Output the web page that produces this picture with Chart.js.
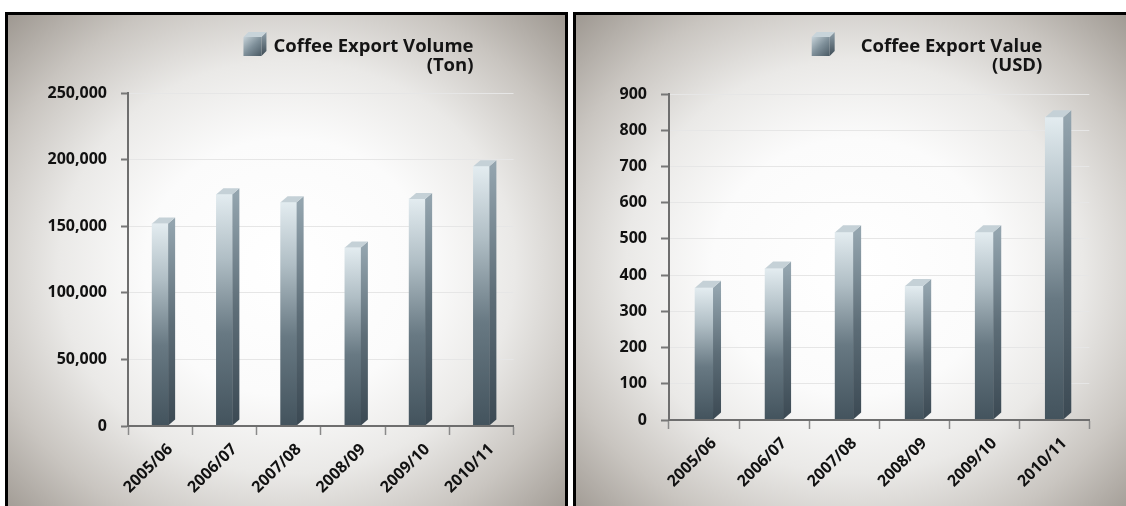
<!DOCTYPE html>
<html>
<head>
<meta charset="utf-8">
<title>Coffee Export</title>
<script src="https://cdn.jsdelivr.net/npm/chart.js@4.4.1/dist/chart.umd.min.js"></script>
<style>
  html, body { margin: 0; padding: 0; background: #fff; width: 1126px; height: 506px; overflow: hidden; }
  .panel {
    position: absolute; top: 12px; width: 563px; height: 510px;
    box-sizing: border-box; border: 3px solid #000;
    background: radial-gradient(ellipse farthest-corner at 50% 50%, #ffffff 0%, #fbfbfb 36%, #eae9e7 58%, #c9c5c0 79%, #9e9891 100%);
  }
  #left { left: 5px; }
  #right { left: 573px; }
  .panel canvas { position: absolute; left: 0; top: 0; }
</style>
</head>
<body>
<div class="panel" id="left"><canvas id="volumeChart" width="557" height="504"></canvas></div>
<div class="panel" id="right"><canvas id="valueChart" width="557" height="504"></canvas></div>

<script>
const seasons = ["2005/06", "2006/07", "2007/08", "2008/09", "2009/10", "2010/11"];
const volumeTons = [152000, 174000, 168000, 134000, 170500, 195000];
const valueUsd = [365, 418, 518, 370, 518, 836];
const volumeAxis = { max: 250000, step: 50000 };
const valueAxis = { max: 900, step: 100 };

const FONT = "'Open Sans', 'DejaVu Sans', sans-serif";

// front face of each bar: light steel at the top, dark slate at the base
function frontFill(context) {
  const chart = context.chart;
  if (!chart.chartArea || context.type !== 'data') return '#7d8e98';
  const y = chart.scales.y.getPixelForValue(context.raw);
  const base = chart.scales.y.getPixelForValue(0);
  const g = chart.ctx.createLinearGradient(0, y, 0, base);
  g.addColorStop(0, '#e3ecf0');
  g.addColorStop(0.28, '#b0bec5');
  g.addColorStop(0.6, '#687983');
  g.addColorStop(1, '#43535d');
  return g;
}

function drawCube(ctx, x, y, w, h, d) {
  // side
  let g = ctx.createLinearGradient(0, y, 0, y + h + d);
  g.addColorStop(0, '#8fa0aa');
  g.addColorStop(1, '#3e4c56');
  ctx.fillStyle = g;
  ctx.beginPath();
  ctx.moveTo(x + w, y + d); ctx.lineTo(x + w + d, y); ctx.lineTo(x + w + d, y + h); ctx.lineTo(x + w, y + h + d);
  ctx.closePath(); ctx.fill();
  // top
  ctx.fillStyle = '#c8d4da';
  ctx.beginPath();
  ctx.moveTo(x, y + d); ctx.lineTo(x + d, y); ctx.lineTo(x + w + d, y); ctx.lineTo(x + w, y + d);
  ctx.closePath(); ctx.fill();
  // front
  g = ctx.createLinearGradient(x, y + d, x + w, y + h + d);
  g.addColorStop(0, '#c7d3d9');
  g.addColorStop(0.5, '#7f909a');
  g.addColorStop(1, '#4a5a64');
  ctx.fillStyle = g;
  ctx.fillRect(x, y + d, w, h);
}

// side and top faces that give the bars their depth
const bar3d = {
  id: 'bar3d',
  afterDatasetsDraw(chart, args, opts) {
    const ctx = chart.ctx;
    const d = opts.depth, up = opts.rise;
    ctx.save();
    chart.getDatasetMeta(0).data.forEach(bar => {
      const { x, y, base, width } = bar.getProps(['x', 'y', 'base', 'width'], true);
      const l = x - width / 2, r = x + width / 2;
      const g = ctx.createLinearGradient(0, y, 0, base);
      g.addColorStop(0, '#93a4ae');
      g.addColorStop(0.5, '#5d6d77');
      g.addColorStop(1, '#3b4953');
      ctx.fillStyle = g;
      ctx.beginPath();
      ctx.moveTo(r, y); ctx.lineTo(r + d, y - up); ctx.lineTo(r + d, base - up); ctx.lineTo(r, base);
      ctx.closePath(); ctx.fill();
      ctx.fillStyle = '#c5d1d7';
      ctx.beginPath();
      ctx.moveTo(l, y); ctx.lineTo(l + d, y - up); ctx.lineTo(r + d, y - up); ctx.lineTo(r, y);
      ctx.closePath(); ctx.fill();
    });
    ctx.restore();
  }
};

// two-line series key with a small cube, right-aligned above the plot
const seriesKey = {
  id: 'seriesKey',
  afterDraw(chart, args, opts) {
    const ctx = chart.ctx;
    const right = chart.chartArea.right - opts.inset;
    ctx.save();
    ctx.font = 'bold 18.5px ' + FONT;
    ctx.fillStyle = '#141414';
    ctx.textAlign = 'right';
    ctx.textBaseline = 'alphabetic';
    ctx.fillText(opts.lines[0], right, opts.baseline);
    ctx.fillText(opts.lines[1], right, opts.baseline + 19);
    const w = ctx.measureText(opts.lines[0]).width;
    drawCube(ctx, right - w - opts.gap - 23, opts.baseline - 20, 18, 19, 5);
    ctx.restore();
  }
};

function makeChart(id, values, axis, cfg) {
  return new Chart(id, {
    type: 'bar',
    data: {
      labels: seasons,
      datasets: [{
        data: values,
        backgroundColor: frontFill,
        borderWidth: 0,
        barThickness: cfg.barWidth
      }]
    },
    options: {
      responsive: false,
      animation: false,
      layout: { padding: cfg.padding },
      plugins: {
        legend: { display: false },
        tooltip: { enabled: false },
        bar3d: { depth: cfg.depth, rise: cfg.rise },
        seriesKey: cfg.key
      },
      scales: {
        x: {
          afterFit: s => { s.height = 75; },
          grid: { display: true, drawOnChartArea: false, offset: true, tickLength: 9, tickColor: '#8a8a8a', tickWidth: 1.5 },
          border: { color: '#6e6e6e', width: 2, z: 1 },
          ticks: {
            color: '#111', maxRotation: 45, minRotation: 45, labelOffset: cfg.labelOffset, padding: 5,
            font: { family: FONT, weight: 'bold', size: 16 }
          }
        },
        y: {
          min: 0, max: axis.max,
          afterFit: s => { s.width = cfg.yWidth; },
          grid: { color: '#e6e6e6', lineWidth: 1, tickLength: cfg.tickLen, tickColor: '#777', tickWidth: 2 },
          border: { color: '#6e6e6e', width: 2 },
          ticks: {
            stepSize: axis.step, padding: 14, color: '#111',
            font: { family: FONT, weight: 'bold', size: 16 }
          }
        }
      }
    },
    plugins: [bar3d, seriesKey]
  });
}

makeChart('volumeChart', volumeTons, volumeAxis, {
  barWidth: 16, depth: 7, rise: 6, yWidth: 120, tickLen: 7, labelOffset: 10,
  padding: { top: 78, right: 51.5, bottom: 18, left: 0 },
  key: { lines: ['Coffee Export Volume', '(Ton)'], inset: 40, baseline: 37, gap: 7 }
});

makeChart('valueChart', valueUsd, valueAxis, {
  barWidth: 18, depth: 8, rise: 7, yWidth: 93, tickLen: 8, labelOffset: 10,
  padding: { top: 79, right: 43.7, bottom: 24, left: 0 },
  key: { lines: ['Coffee Export Value', '(USD)'], inset: 47, baseline: 37, gap: 26 }
});
</script>
</body>
</html>
